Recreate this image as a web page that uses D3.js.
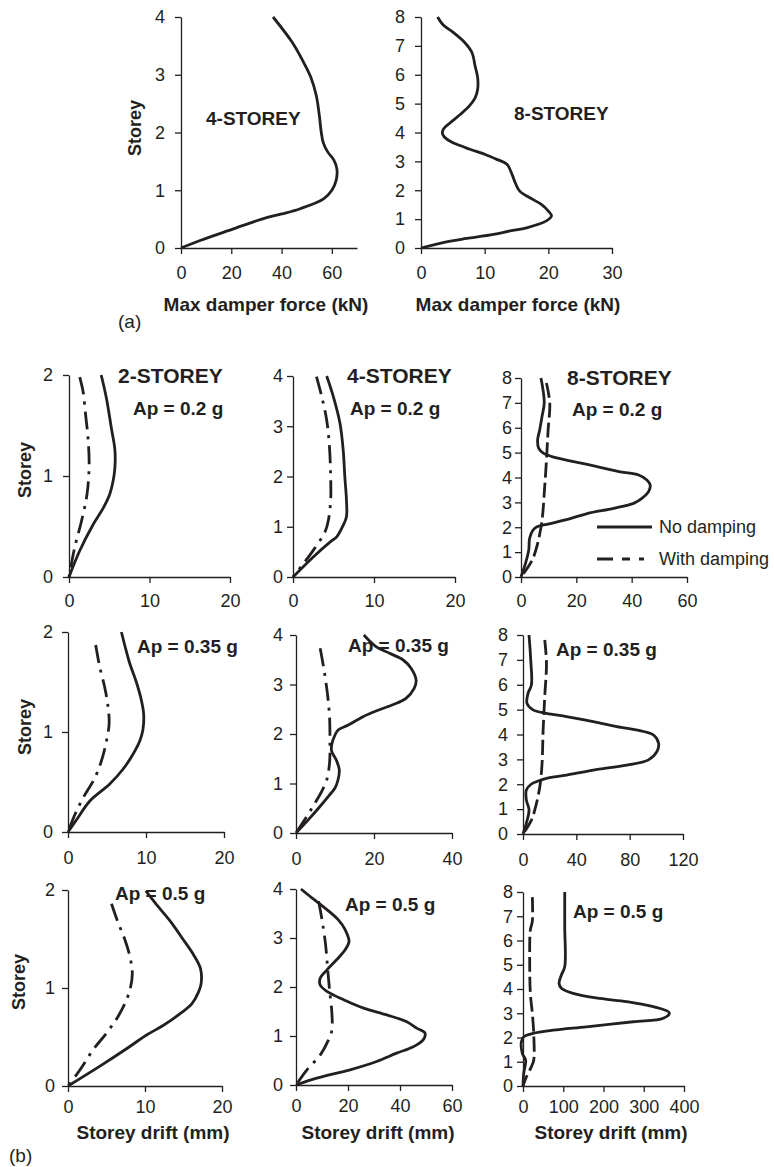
<!DOCTYPE html>
<html>
<head>
<meta charset="utf-8">
<script src="https://cdn.jsdelivr.net/npm/d3@7"></script>
<style>
  body { margin: 0; background: #fff; }
  text { font-family: "Liberation Sans", Arial, sans-serif; fill: #231f20; }
  .axis path, .axis line { stroke: #231f20; stroke-width: 1.3; }
  .axis text { font-size: 18px; fill: #231f20; }
</style>
</head>
<body>
<svg id="fig" width="774" height="1167"></svg>
<script>
// DATA  (pairs are [value, storey])
// (a) max damper force, kN
const force4 = [[36.6,4.0],[44.1,3.57],[48.7,3.22],[51.6,2.96],[53.8,2.64],[55.0,2.30],[55.8,2.0],[56.6,1.82],[58.4,1.66],[60.7,1.53],[62.0,1.37],[61.7,1.17],[60.0,1.0],[56.7,0.85],[47.4,0.68],[40.1,0.59],[32.8,0.51],[20.8,0.33],[7.6,0.13],[0,0]];
const force8 = [[2.6,8.0],[3.5,7.72],[5.1,7.46],[6.9,7.11],[8.0,6.77],[8.5,6.3],[8.9,5.9],[8.9,5.5],[8.5,5.2],[7.6,4.92],[6.2,4.63],[4.6,4.34],[3.5,4.11],[3.4,3.94],[4.1,3.76],[5.6,3.59],[7.7,3.42],[10.1,3.24],[11.9,3.07],[13.5,2.9],[14.3,2.55],[14.8,2.26],[15.5,1.97],[17.1,1.74],[18.9,1.51],[20.0,1.28],[20.5,1.11],[19.7,0.94],[16.6,0.70],[14.0,0.59],[11.4,0.47],[7.2,0.33],[4.6,0.24],[0,0]];

// (b) storey drift, mm — Ap = 0.2 g
const drift2_02_none = [[4.0,2.0],[4.65,1.77],[5.27,1.47],[5.7,1.26],[5.7,1.08],[5.48,0.95],[5.06,0.82],[4.23,0.68],[3.0,0.52],[1.33,0.26],[0,0]];
const drift2_02_damp = [[1.33,1.98],[1.74,1.84],[2.07,1.6],[2.36,1.38],[2.5,1.11],[2.24,0.82],[1.54,0.55],[0.7,0.29],[0,0]];
const drift4_02_none = [[4.16,4.0],[4.98,3.59],[5.8,3.06],[6.2,2.52],[6.4,1.99],[6.6,1.53],[6.6,1.2],[6.2,1.03],[5.4,0.8],[4.6,0.7],[2.5,0.4],[0,0]];
const drift4_02_damp = [[2.9,3.99],[3.55,3.59],[4.16,3.12],[4.5,2.59],[4.65,1.99],[4.65,1.53],[4.37,1.13],[3.96,0.9],[2.5,0.53],[1.3,0.27],[0,0]];
const drift8_02_none = [[7.2,8.0],[7.95,7.53],[8.4,6.99],[7.6,6.45],[6.75,5.91],[6.0,5.51],[6.4,5.17],[8.2,4.97],[11.2,4.84],[19.0,4.64],[27.5,4.44],[35.9,4.23],[42.5,4.1],[45.5,3.9],[46.7,3.7],[46.1,3.43],[43.7,3.16],[40.7,2.96],[33.5,2.76],[23.9,2.55],[17.8,2.35],[10.6,2.15],[5.8,2.02],[4.3,1.88],[3.1,1.55],[2.8,1.08],[1.6,0.54],[0,0]];
const drift8_02_damp = [[9.2,7.8],[10.4,6.99],[9.8,5.91],[9.2,4.7],[8.4,3.36],[7.6,2.28],[6.0,1.34],[4.0,0.67],[0,0]];

// Ap = 0.35 g
const drift2_035_none = [[6.85,2.0],[7.3,1.86],[7.9,1.69],[8.8,1.49],[9.4,1.32],[9.7,1.18],[9.6,1.02],[9.2,0.91],[8.35,0.78],[7.07,0.63],[5.35,0.48],[2.8,0.31],[1.07,0.12],[0,0]];
const drift2_035_damp = [[3.55,1.87],[4.07,1.65],[4.7,1.45],[5.14,1.25],[5.27,1.08],[4.93,0.91],[4.28,0.71],[3.43,0.54],[1.93,0.34],[0.86,0.17],[0,0]];
const drift4_035_none = [[17.4,4.0],[20.6,3.76],[24.0,3.63],[27.4,3.5],[29.5,3.33],[30.8,3.09],[30.3,2.92],[28.2,2.72],[24.8,2.59],[21.4,2.49],[17.2,2.35],[13.4,2.18],[10.8,2.08],[10.0,1.98],[9.15,1.78],[9.15,1.65],[10.3,1.48],[11.1,1.28],[10.8,1.08],[10.0,0.91],[8.3,0.74],[6.2,0.54],[3.2,0.27],[0,0]];
const drift4_035_damp = [[6.2,3.73],[7.2,3.29],[8.05,2.82],[8.6,2.35],[8.7,1.88],[8.6,1.41],[7.9,1.08],[6.6,0.84],[4.9,0.61],[2.8,0.34],[0,0]];
const drift8_035_none = [[4.5,8.0],[5.8,7.0],[6.3,5.99],[3.8,5.66],[3.0,5.25],[7.5,4.99],[17.6,4.85],[32.6,4.72],[52.7,4.52],[70.3,4.32],[90.4,4.12],[97.9,3.98],[101.7,3.65],[100.4,3.31],[94.1,2.98],[77.8,2.77],[52.7,2.57],[32.6,2.37],[17.6,2.24],[10.0,2.1],[6.3,2.01],[2.5,1.77],[2.5,1.37],[4.5,0.97],[2.5,0.43],[0,0]];
const drift8_035_damp = [[16.3,7.8],[17.6,6.86],[16.3,5.52],[15.1,4.18],[14.3,2.84],[12.6,1.9],[9.5,1.1],[6.3,0.56],[0,0]];

// Ap = 0.5 g
const drift2_05_none = [[10.1,1.99],[11.5,1.85],[13.3,1.68],[15.0,1.49],[16.3,1.34],[17.2,1.2],[17.3,1.05],[16.96,0.96],[16.1,0.84],[14.6,0.74],[12.4,0.62],[10.2,0.52],[7.6,0.38],[4.1,0.2],[0,0]];
const drift2_05_damp = [[5.65,1.86],[6.4,1.69],[7.4,1.49],[8.04,1.32],[8.35,1.15],[8.13,1.01],[7.6,0.88],[6.5,0.71],[5.0,0.54],[3.26,0.37],[1.52,0.16],[0,0]];
const drift4_05_none = [[1.9,4.0],[6.1,3.82],[11.9,3.58],[16.3,3.37],[18.9,3.17],[20.4,2.93],[18.9,2.76],[15.7,2.56],[11.9,2.35],[9.3,2.18],[9.3,2.04],[11.9,1.91],[18.3,1.74],[26.0,1.57],[34.9,1.43],[42.6,1.29],[46.4,1.16],[49.6,1.06],[48.9,0.92],[45.1,0.78],[38.7,0.65],[31.0,0.48],[20.8,0.31],[8.0,0.14],[0,0]];
const drift4_05_damp = [[8.7,3.75],[10.0,3.37],[11.3,2.9],[12.1,2.42],[12.9,1.94],[13.8,1.47],[13.8,1.12],[12.5,0.92],[9.3,0.61],[4.2,0.31],[0,0]];
const drift8_05_none = [[103.7,8.0],[103.7,6.58],[103.7,4.92],[95.4,4.58],[89.6,4.23],[95.4,4.03],[124.5,3.82],[190.9,3.61],[257.3,3.48],[323.7,3.27],[363.5,3.02],[348.5,2.79],[273.9,2.65],[157.7,2.44],[74.7,2.3],[24.9,2.17],[2,2.03],[-4,1.82],[-1.6,1.34],[6.6,1.06],[1.7,0.51],[0,0]];
const drift8_05_damp = [[23.2,7.79],[23.2,6.79],[18.3,6.44],[16.6,5.2],[18.3,3.82],[23.2,2.99],[26.6,2.17],[26.6,1.06],[20.7,0.79],[8.3,0.37],[0,0]];

// tick labels
const ticksForce4 = [0, 20, 40, 60];
const ticksForce8 = [0, 10, 20, 30];
const ticksDrift2 = [0, 10, 20];
const ticksDrift4a = [0, 10, 20];
const ticksDrift4b = [0, 20, 40];
const ticksDrift4c = [0, 20, 40, 60];
const ticksDrift8a = [0, 20, 40, 60];
const ticksDrift8b = [0, 40, 80, 120];
const ticksDrift8c = [0, 100, 200, 300, 400];

const legendLabels = ["No damping", "With damping"];

// STYLES
const DASHDOT = "18,7,3,7";
const DASHED = "15,5";

// LAYOUT
const panels = [
  { x: [181, 357], y: [248, 17], xMax: 70, n: 4, xt: ticksForce4, xpad: 12, ypad: 10,
    lines: [[force4, null]], name: "4-STOREY", nx: 206, ny: 125, fs: 19 },
  { x: [421, 612], y: [248, 17], xMax: 30, n: 8, xt: ticksForce8, xpad: 12, ypad: 10,
    lines: [[force8, null]], name: "8-STOREY", nx: 514, ny: 120, fs: 19 },

  { x: [69, 230], y: [577, 375], xMax: 20, n: 2, xt: ticksDrift2, xpad: 11, ypad: 10,
    lines: [[drift2_02_none, null], [drift2_02_damp, DASHDOT]],
    name: "2-STOREY", nx: 118, ny: 383, fs: 21, ap: "Ap = 0.2 g", ax: 133, ay: 415 },
  { x: [293, 455], y: [577, 376], xMax: 20, n: 4, xt: ticksDrift4a, xpad: 11, ypad: 4,
    lines: [[drift4_02_none, null], [drift4_02_damp, DASHDOT]],
    name: "4-STOREY", nx: 347, ny: 383, fs: 21, ap: "Ap = 0.2 g", ax: 350, ay: 415 },
  { x: [521, 687], y: [577, 378], xMax: 60, n: 8, xt: ticksDrift8a, xpad: 11, ypad: 3,
    lines: [[drift8_02_none, null], [drift8_02_damp, DASHED]],
    name: "8-STOREY", nx: 567, ny: 385, fs: 21, ap: "Ap = 0.2 g", ax: 572, ay: 416, legend: true },

  { x: [68, 224], y: [832, 632], xMax: 20, n: 2, xt: ticksDrift2, xpad: 13, ypad: 9,
    lines: [[drift2_035_none, null], [drift2_035_damp, DASHDOT]], ap: "Ap = 0.35 g", ax: 137, ay: 653 },
  { x: [296, 452], y: [833, 635], xMax: 40, n: 4, xt: ticksDrift4b, xpad: 13, ypad: 7,
    lines: [[drift4_035_none, null], [drift4_035_damp, DASHDOT]], ap: "Ap = 0.35 g", ax: 348, ay: 652 },
  { x: [523, 683], y: [834, 635], xMax: 120, n: 8, xt: ticksDrift8b, xpad: 13, ypad: 9,
    lines: [[drift8_035_none, null], [drift8_035_damp, DASHED]], ap: "Ap = 0.35 g", ax: 556, ay: 656 },

  { x: [68, 222], y: [1086, 890], xMax: 20, n: 2, xt: ticksDrift2, xpad: 8, ypad: 7,
    lines: [[drift2_05_none, null], [drift2_05_damp, DASHDOT]], ap: "Ap = 0.5 g", ax: 115, ay: 900 },
  { x: [296, 452], y: [1085, 889], xMax: 60, n: 4, xt: ticksDrift4c, xpad: 8, ypad: 7,
    lines: [[drift4_05_none, null], [drift4_05_damp, DASHDOT]], ap: "Ap = 0.5 g", ax: 345, ay: 911 },
  { x: [523, 684], y: [1086, 892], xMax: 400, n: 8, xt: ticksDrift8c, xpad: 8, ypad: 4,
    lines: [[drift8_05_none, null], [drift8_05_damp, DASHED]], ap: "Ap = 0.5 g", ax: 573, ay: 918 }
];

const svg = d3.select("#fig");

panels.forEach(p => {
  const x = d3.scaleLinear().domain([0, p.xMax]).range(p.x);
  const y = d3.scaleLinear().domain([0, p.n]).range(p.y);

  svg.append("g")
      .attr("class", "axis")
      .attr("transform", `translate(0,${p.y[0]})`)
      .call(d3.axisBottom(x).tickValues(p.xt).tickSize(6).tickSizeOuter(0)
          .tickPadding(p.xpad).tickFormat(d3.format("d")))
      .call(g => g.selectAll("text").attr("font-family", null));

  svg.append("g")
      .attr("class", "axis")
      .attr("transform", `translate(${p.x[0]},0)`)
      .call(d3.axisLeft(y).tickValues(d3.range(0, p.n + 1)).tickSize(6).tickSizeOuter(0)
          .tickPadding(p.ypad).tickFormat(d3.format("d")))
      .call(g => g.selectAll("text").attr("font-family", null));

  const line = d3.line()
      .x(d => x(d[0]))
      .y(d => y(d[1]))
      .curve(d3.curveCatmullRom.alpha(0.5));

  p.lines.forEach(([data, dash]) => {
    svg.append("path")
        .attr("d", line(data))
        .attr("fill", "none")
        .attr("stroke", "#231f20")
        .attr("stroke-width", 2.8)
        .attr("stroke-linejoin", "round")
        .attr("stroke-dasharray", dash);
  });

  if (p.name) {
    svg.append("text")
        .attr("x", p.nx).attr("y", p.ny)
        .attr("font-size", p.fs).attr("font-weight", "bold")
        .text(p.name);
  }
  if (p.ap) {
    svg.append("text")
        .attr("x", p.ax).attr("y", p.ay)
        .attr("font-size", 19).attr("font-weight", "bold")
        .text(p.ap);
  }

  // legend
  if (p.legend) {
    const ly = [527, 559];
    ly.forEach((yy, i) => {
      svg.append("line")
          .attr("x1", 597).attr("x2", 652).attr("y1", yy).attr("y2", yy)
          .attr("stroke", "#231f20").attr("stroke-width", 2.8)
          .attr("stroke-dasharray", i ? "16,9,8,9,5" : null);
      svg.append("text")
          .attr("x", 659).attr("y", yy).attr("dy", "0.35em")
          .attr("font-size", 18)
          .text(legendLabels[i]);
    });
  }
});

// axis titles
const boldText = (x, y, s, rot) => {
  const t = svg.append("text")
      .attr("font-size", rot ? 18 : 19)
      .attr("font-weight", "bold")
      .attr("text-anchor", "middle")
      .text(s);
  if (rot) t.attr("transform", `translate(${x},${y}) rotate(-90)`).attr("dy", "0.35em");
  else t.attr("x", x).attr("y", y);
};

boldText(266, 311, "Max damper force (kN)");
boldText(518, 311, "Max damper force (kN)");
boldText(135, 128, "Storey", true);
boldText(25, 470, "Storey", true);
boldText(25, 727, "Storey", true);
boldText(19, 982, "Storey", true);
boldText(153, 1139, "Storey drift (mm)");
boldText(378, 1139, "Storey drift (mm)");
boldText(611, 1139, "Storey drift (mm)");

// panel letters
svg.append("text").attr("x", 118).attr("y", 328)
    .attr("font-family", "Liberation Serif, serif").attr("font-size", 19).text("(a)");
svg.append("text").attr("x", 9).attr("y", 1162)
    .attr("font-family", "Liberation Serif, serif").attr("font-size", 19).text("(b)");
</script>
</body>
</html>
